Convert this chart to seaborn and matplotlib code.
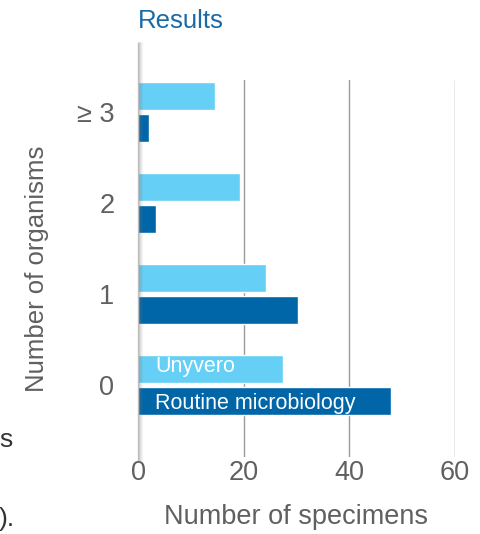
import matplotlib
matplotlib.use("Agg")
import matplotlib.pyplot as plt
import matplotlib.transforms as mtransforms
import seaborn as sns
import pandas as pd

# Number of organisms detected per specimen
categories = ["\u2265 3", "2", "1", "0"]
unyvero = [14.6, 19.3, 24.2, 27.5]
routine = [2, 3.4, 30.2, 47.9]
series_names = ["Unyvero", "Routine microbiology"]
x_ticks = [0, 20, 40, 60]

light_blue = "#66cff5"
dark_blue = "#0066a8"
text_gray = "#606060"

df = pd.DataFrame({
    "organisms": categories * 2,
    "specimens": unyvero + routine,
    "method": [series_names[0]] * len(categories) + [series_names[1]] * len(categories),
})

sns.set_theme(style="white")
plt.rcParams["font.family"] = ["Liberation Sans", "DejaVu Sans"]

fig = plt.figure(figsize=(4.8, 5.34), dpi=100)
W, H = 480, 534
left, right, top, bottom = 138, 455, 80, 457
ax = fig.add_axes([left / W, 1 - bottom / H, (right - left) / W, (bottom - top) / H])

sns.barplot(data=df, y="organisms", x="specimens", hue="method", order=categories,
            hue_order=series_names, palette=[light_blue, dark_blue],
            width=0.714, gap=0.14, saturation=1, orient="h", ax=ax, legend=False)

ax.set_xlim(0, 60)
ax.set_ylim(3.79, -0.35)
ax.set_xticks(x_ticks)
for xv in x_ticks[1:]:
    ax.axvline(xv, color="#9a9a9a", lw=1, zorder=0)

for s in ax.spines.values():
    s.set_visible(False)

ax.tick_params(axis="both", length=0, labelsize=19.5, colors=text_gray)
ax.tick_params(axis="x", pad=2)
ax.tick_params(axis="y", pad=17)
ax.set_xlabel("Number of specimens", fontsize=19.5, color=text_gray, labelpad=13)
ax.set_ylabel("Number of organisms", fontsize=18.5, color=text_gray, labelpad=20)

# soft shadow along the value axis origin
trans = ax.get_xaxis_transform()
for i, alpha in enumerate([0.45, 0.3, 0.18, 0.1, 0.05]):
    t = mtransforms.offset_copy(trans, fig=fig, x=(i + 0.3) * 0.75, y=0, units="points")
    ax.plot([0, 0], [-0.01, 1.10], transform=t, color="#7a7a7a", alpha=alpha,
            lw=1.0, clip_on=False, zorder=3, solid_capstyle="butt")

# series names written inside the bottom pair of bars
bar_rows = [(series_names[0], 3 - 0.2), (series_names[1], 3 + 0.2)]
for name, yv in bar_rows:
    ax.text(3.3, yv, name, color="white", fontsize=15.5, va="center", ha="left", zorder=5)

fig.text(left / W, 1 - 21 / H, "Results", color="#1a6aa8", fontsize=18.5,
         ha="left", va="center")
fig.text(-1 / W, 1 - 440 / H, "s", color="#333333", fontsize=19, va="center")
fig.text(-1 / W, 1 - 519 / H, ").", color="#333333", fontsize=19, va="center")

fig.savefig("out.png", dpi=100, facecolor="white")
